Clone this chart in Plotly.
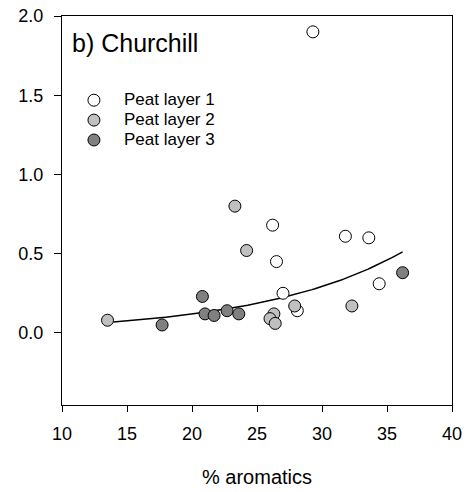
import numpy as np
import plotly.graph_objects as go

# % aromatics (x) and response (y) for each peat layer
layer1_x = [29.3, 26.2, 26.5, 27.0, 28.1, 31.8, 33.6, 34.4]
layer1_y = [1.90, 0.68, 0.45, 0.25, 0.14, 0.61, 0.60, 0.31]

layer2_x = [13.5, 23.3, 24.2, 26.3, 26.0, 26.4, 27.9, 32.3]
layer2_y = [0.08, 0.80, 0.52, 0.12, 0.09, 0.06, 0.17, 0.17]

layer3_x = [17.7, 20.8, 21.0, 21.7, 22.7, 23.6, 36.2]
layer3_y = [0.05, 0.23, 0.12, 0.11, 0.14, 0.12, 0.38]

# exponential fit y = a * exp(b * x)
fit_a = 0.0196
fit_b = 0.0901
fit_xmin, fit_xmax = 13.95, 36.2

x_ticks = [10, 15, 20, 25, 30, 35, 40]
y_ticks = [0.0, 0.5, 1.0, 1.5, 2.0]

FONT = "Liberation Sans, Arial, sans-serif"

fit_x = np.linspace(fit_xmin, fit_xmax, 100)
fit_y = fit_a * np.exp(fit_b * fit_x)

fig = go.Figure()
fig.add_trace(go.Scatter(x=fit_x, y=fit_y, mode="lines",
                         line=dict(color="black", width=1.5),
                         showlegend=False, hoverinfo="skip"))

series = [
    ("Peat layer 1", layer1_x, layer1_y, "#ffffff"),
    ("Peat layer 2", layer2_x, layer2_y, "#c0c0c0"),
    ("Peat layer 3", layer3_x, layer3_y, "#808080"),
]
for name, xs, ys, col in series:
    fig.add_trace(go.Scatter(x=xs, y=ys, mode="markers",
                             name='<span style="font-size:17px">%s</span>' % name,
                             marker=dict(size=12, color=col,
                                         line=dict(color="black", width=1))))

fig.update_layout(
    width=467, height=492,
    margin=dict(l=62, r=15, t=16, b=87),
    paper_bgcolor="white", plot_bgcolor="white",
    font=dict(family=FONT, color="black", size=18),
    legend=dict(x=0.005, y=0.822, xanchor="left", yanchor="top",
                font=dict(size=13, family=FONT), bgcolor="rgba(0,0,0,0)",
                itemwidth=50),
    annotations=[
        dict(text="b) Churchill", x=0.02, y=0.93, xref="paper", yref="paper",
             xanchor="left", yanchor="middle", showarrow=False,
             font=dict(size=25, family=FONT)),
        dict(text="% aromatics", x=0.5, y=-0.185, xref="paper", yref="paper",
             xanchor="center", yanchor="middle", showarrow=False,
             font=dict(size=20, family=FONT)),
    ],
)
fig.update_xaxes(range=[10, 40], tickvals=x_ticks, showgrid=False, zeroline=False,
                 showline=True, linecolor="black", linewidth=1, mirror=True,
                 ticks="outside", ticklen=6, tickcolor="black",
                 ticklabelstandoff=6, automargin=False)
fig.update_yaxes(range=[-0.455, 2.0], tickvals=y_ticks, tickformat=".1f",
                 showgrid=False, zeroline=False,
                 showline=True, linecolor="black", linewidth=1, mirror=True,
                 ticks="outside", ticklen=7, tickcolor="black",
                 ticklabelstandoff=7, automargin=False)

fig.write_html("out.html")
